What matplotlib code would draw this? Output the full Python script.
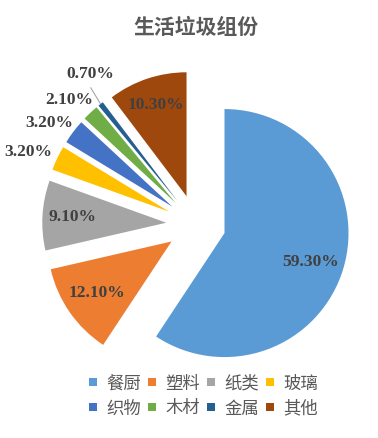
import numpy as np
import matplotlib
matplotlib.use("Agg")
import matplotlib.pyplot as plt
from matplotlib.lines import Line2D

plt.rcParams['font.family'] = ['Noto Sans CJK SC', 'DejaVu Sans']

# data
names = ['餐厨', '塑料', '纸类', '玻璃', '织物', '木材', '金属', '其他']
shares = [59.3, 12.1, 9.1, 3.2, 3.2, 2.1, 0.7, 10.3]
colors = ['#5B9BD5', '#ED7D31', '#A5A5A5', '#FFC000',
          '#4472C4', '#70AD47', '#255E91', '#9E480E']

# label placement: distance from slice centre (in radii) and angular nudge
lab_dist = [0.73, 0.73, 0.76, 1.23, 1.20, 1.19, 1.24, 0.78]
lab_turn = [-2, 0, 0, 2.6, 3.0, 2.6, -4.0, 0]

W, H = 378, 438
R = 124.0            # pie radius in px
cx, cy = 196, 224.5  # pie centre in px (from top-left)

fig = plt.figure(figsize=(W / 100, H / 100), dpi=100)
ax = fig.add_axes([0, 0, 1, 1])

wedges, _ = ax.pie(shares, colors=colors, startangle=90, counterclock=False,
                   explode=[0.24] * len(shares), radius=1.0,
                   wedgeprops=dict(linewidth=0))

ax.set_xlim(-cx / R, (W - cx) / R)
ax.set_ylim(-(H - cy) / R, cy / R)
ax.set_aspect('equal')
ax.axis('off')

lab_font = dict(family='Liberation Serif', weight='bold', size=12.6,
                color='#404040')
for w, v, d, turn in zip(wedges, shares, lab_dist, lab_turn):
    mid = np.deg2rad((w.theta1 + w.theta2) / 2)
    ang = mid + np.deg2rad(turn)
    ox, oy = w.center
    tx, ty = ox + d * np.cos(ang), oy + d * np.sin(ang)
    ax.text(tx, ty, '%.2f%%' % v, ha='center', va='center', **lab_font)
    if v < 1:
        # leader line from under the label to the slice tip
        ax.plot([tx + 0.0, ox + 1.005 * np.cos(mid)],
                [ty - 0.11, oy + 1.005 * np.sin(mid)],
                color='#A6A6A6', lw=0.8)

fig.text(196 / W, 1 - 27 / H, '生活垃圾组份', ha='center', va='center',
         fontsize=15, weight='bold', color='#595959')

# legend reads row by row
order = [0, 4, 1, 5, 2, 6, 3, 7]
handles = [Line2D([], [], marker='s', linestyle='none', markersize=6,
                  markerfacecolor=colors[i], markeredgewidth=0) for i in order]
leg = fig.legend(handles, [names[i] for i in order], ncol=4, loc='center',
                 bbox_to_anchor=(203 / W, 1 - 396 / H), frameon=False,
                 fontsize=12.5, handlelength=0.6, handletextpad=0.5,
                 columnspacing=0.3, labelspacing=0.4)
for t in leg.get_texts():
    t.set_color('#595959')

fig.savefig('out.png', dpi=100)
